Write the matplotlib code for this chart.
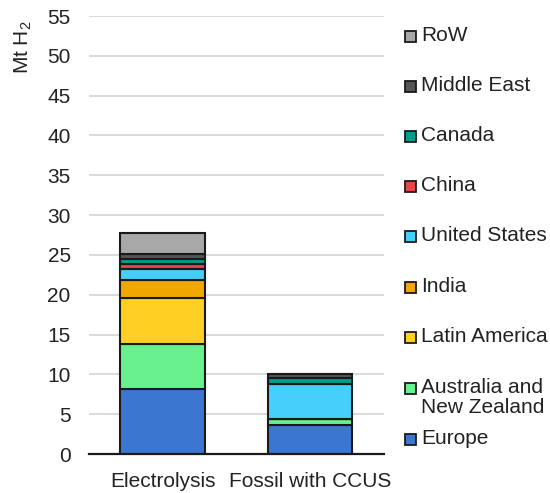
import matplotlib
matplotlib.use("Agg")
import matplotlib.pyplot as plt
from matplotlib.patches import Rectangle

plt.rcParams['font.family'] = ['Liberation Sans', 'DejaVu Sans']
plt.rcParams['mathtext.fontset'] = 'custom'
plt.rcParams['mathtext.rm'] = 'Liberation Sans'

categories = ["Electrolysis", "Fossil with CCUS"]
regions = ["Europe", "Australia and\nNew Zealand", "Latin America", "India",
           "United States", "China", "Canada", "Middle East", "RoW"]
colors = ["#3B76D1", "#69F08F", "#FDD023", "#F0A800", "#45D0FB",
          "#E84646", "#009E8E", "#555555", "#A8A8A8"]

# Mt H2 by region for each production route (bottom to top)
electrolysis = [8.2, 5.6, 5.8, 2.2, 1.4, 0.6, 0.7, 0.6, 2.6]
fossil_ccus = [3.6, 0.8, 0.0, 0.0, 4.4, 0.0, 0.8, 0.5, 0.0]

W, H = 550, 493
FS = 15
TXT = '#222222'

fig = plt.figure(figsize=(W / 100, H / 100), dpi=100)
ax = fig.add_axes([88.7 / W, 1 - 454 / H, 295.3 / W, 438 / H])

x = list(range(len(categories)))
bottoms = [0.0, 0.0]
for i, reg in enumerate(regions):
    vals = [electrolysis[i], fossil_ccus[i]]
    ax.bar(x, vals, width=0.573, bottom=bottoms, color=colors[i],
           edgecolor="#1a1a1a", linewidth=1.5, zorder=3)
    bottoms = [b + v for b, v in zip(bottoms, vals)]

ax.set_xlim(-0.5, 1.5)
ax.set_ylim(0, 55)
ax.set_yticks(range(0, 56, 5))
ax.set_xticks(x)
ax.set_xticklabels(categories)
ax.tick_params(axis='both', length=0, labelsize=FS, colors=TXT)
ax.tick_params(axis='y', pad=13)
ax.tick_params(axis='x', pad=13)
ax.grid(axis='y', color='#d9d9d9', linewidth=1.4, zorder=0)
for s in ['left', 'right', 'top']:
    ax.spines[s].set_visible(False)
ax.spines['bottom'].set_color('#1a1a1a')
ax.spines['bottom'].set_linewidth(1.6)
ax.spines['bottom'].set_zorder(4)

fig.text(23 / W, 1 - 47 / H, r"Mt H$_\mathrm{2}$", rotation=90,
         ha='center', va='center', fontsize=FS, color=TXT)

# Legend drawn top to bottom (reverse stacking order)
legend_y = [36, 86, 136, 186, 236, 287, 337, 388, 439]
for j, i in enumerate(reversed(range(len(regions)))):
    yc = legend_y[j]
    size = 11
    fig.patches.append(Rectangle((405 / W, 1 - (yc + size / 2) / H), size / W, size / H,
                                 transform=fig.transFigure, facecolor=colors[i],
                                 edgecolor='#1a1a1a', linewidth=1.3))
    fig.text(421 / W, 1 - (yc - 10) / H, regions[i], ha='left', va='top',
             fontsize=FS, color=TXT, linespacing=1.05)

fig.savefig("out.png", dpi=100)
